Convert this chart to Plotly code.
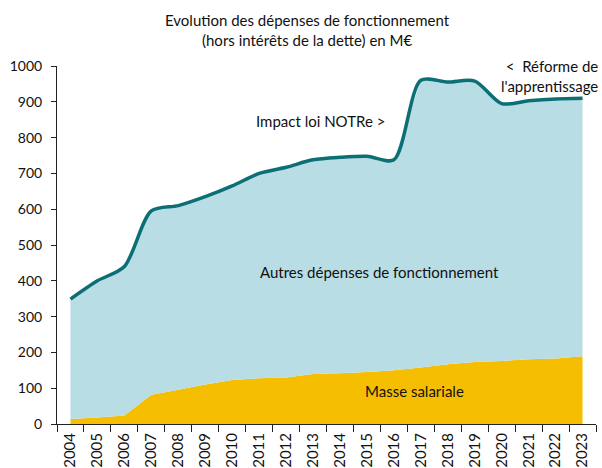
import plotly.graph_objects as go

years = [str(y) for y in range(2004, 2024)]
total = [349, 400, 440, 595, 610, 635, 665, 700, 717, 738, 745, 748, 738, 960, 955, 958, 895, 903, 908, 910]
masse = [14, 18, 24, 82, 96, 110, 123, 128, 130, 140, 142, 145, 150, 158, 167, 173, 176, 181, 183, 189]
autres = [t - m for t, m in zip(total, masse)]

FONT = "Lato"
L, T, W, H = 57, 66, 539, 358  # plot area in pixels


def px(x):
    return (x - L) / W


def py(y):
    return (T + H - y) / H


fig = go.Figure()
fig.add_trace(go.Scatter(x=years, y=masse, stackgroup="s", mode="none",
                         fillcolor="#f5be00", line=dict(width=0), hoverinfo="skip"))
fig.add_trace(go.Scatter(x=years, y=autres, stackgroup="s", mode="none",
                         fillcolor="#b9dde4", line=dict(width=0), hoverinfo="skip"))
fig.add_trace(go.Scatter(x=years, y=total, mode="lines",
                         line=dict(color="#0b6f75", width=3.5, shape="spline", smoothing=0.8)))

fig.update_layout(
    width=602, height=468,
    margin=dict(l=L, r=602 - L - W, t=T, b=468 - T - H, autoexpand=False),
    paper_bgcolor="white", plot_bgcolor="white",
    showlegend=False,
    font=dict(family=FONT, size=14, color="#111"),
)
fig.update_xaxes(type="category", range=[-0.5, 19.5], showline=True, linecolor="#222",
                 linewidth=1, ticks="outside", tickson="boundaries", ticklen=7,
                 tickcolor="#222", tickangle=-90, showgrid=False, automargin=False,
                 ticklabelstandoff=2,
                 tickfont=dict(family=FONT, size=15, color="#111"))
fig.update_yaxes(range=[0, 1000], dtick=100, showline=True, linecolor="#222", linewidth=1,
                 ticks="outside", ticklen=5, tickcolor="#222", showgrid=False, zeroline=False,
                 automargin=False, ticklabelstandoff=6,
                 tickfont=dict(family=FONT, size=14, color="#111"))

ann = dict(showarrow=False, xref="paper", yref="paper", xanchor="center", yanchor="middle",
           font=dict(family=FONT, size=15, color="#111"))
fig.add_annotation(x=px(307), y=py(30), align="center",
                   text="Evolution des dépenses de fonctionnement<br>(hors intérêts de la dette) en M€",
                   **ann)
fig.add_annotation(x=px(320), y=py(121), text="Impact loi NOTRe >", **ann)
fig.add_annotation(x=px(379), y=py(272), text="Autres dépenses de fonctionnement", **ann)
fig.add_annotation(x=px(414), y=py(391), text="Masse salariale", **ann)
ann_r = dict(ann)
ann_r["xanchor"] = "right"
fig.add_annotation(x=px(600), y=py(76), align="right",
                   text="<  Réforme de<br>l'apprentissage", **ann_r)

fig.write_html("out.html", config={"displayModeBar": False},
               post_script="document.body.style.margin='0';document.body.style.padding='0';")
